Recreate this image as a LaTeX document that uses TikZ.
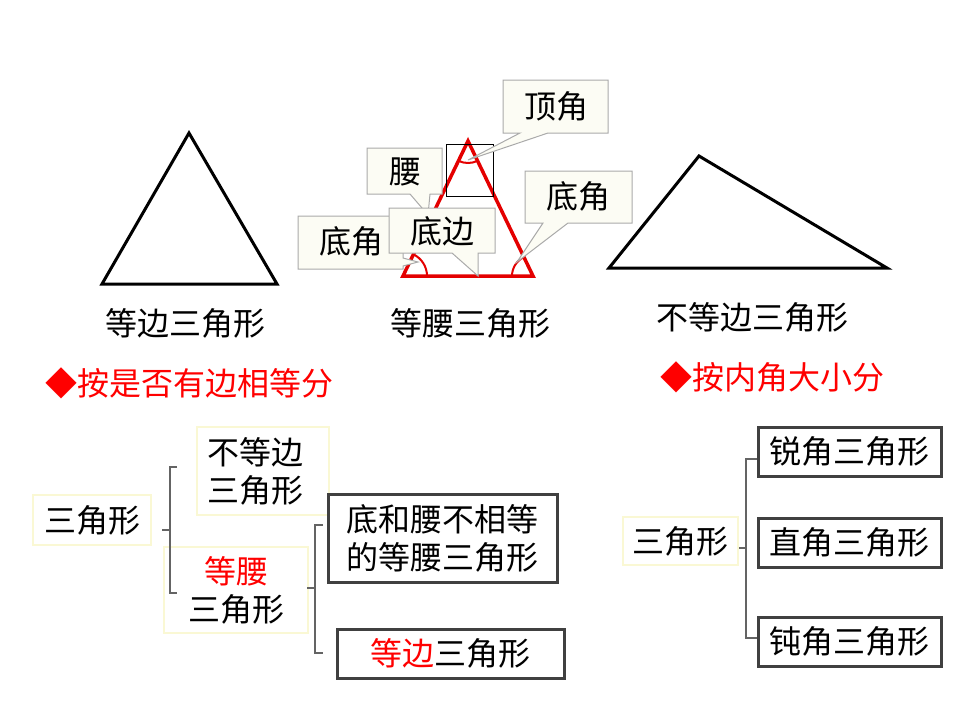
\documentclass[tikz,border=0pt]{standalone}
\usepackage{fontspec}
\setmainfont{Noto Sans CJK SC}
\definecolor{redT}{RGB}{228,0,0}
\definecolor{hred}{RGB}{255,0,0}
\definecolor{conn}{RGB}{100,100,100}
\definecolor{cream}{RGB}{252,252,244}
\definecolor{cbord}{RGB}{170,170,170}
\definecolor{ybord}{RGB}{250,248,212}
\definecolor{dbord}{RGB}{64,64,64}
\begin{document}
\begin{tikzpicture}[x=1pt,y=-1pt,
  txt/.style={font=\fontsize{32}{38}\selectfont, inner sep=0pt, align=center},
  ybox/.style={txt, draw=ybord, line width=2pt, fill=white},
  dbox/.style={txt, draw=dbord, line width=3pt, fill=white},
  brk/.style={draw=conn, line width=2.8pt},
  callout/.style={draw=cbord, fill=cream, line width=1pt, line join=miter},
  tri/.style={draw=black, line width=3pt, line join=miter},
  redtri/.style={draw=redT, line width=3.5pt, line join=miter},
  angarc/.style={draw=redT, line width=2pt},
]
\useasboundingbox (0,0) rectangle (960,720);

% ---------- equilateral triangle ----------
\coordinate (e1) at (189,133);
\coordinate (e2) at (102,284);
\coordinate (e3) at (277,284);
\draw[tri] (e1) -- (e2) -- (e3) -- cycle;
\node[txt] (lab1) at (185,323) {等边三角形};

% ---------- isosceles triangle ----------
\coordinate (i1) at (468,141);
\coordinate (i2) at (403,276);
\coordinate (i3) at (533,276);
\draw[redtri] (i1) -- (i2) -- (i3) -- cycle;
\draw[angarc] (i1) ++(64.3:22) arc[start angle=64.3, end angle=115.4, radius=22];
\draw[angarc] (i2) ++(-64.3:24) arc[start angle=-64.3, end angle=0, radius=24];
\draw[angarc] (i3) ++(180:21) arc[start angle=180, end angle=244.3, radius=21];
\draw[black, line width=1pt] (446,144) rectangle (493,196);
\node[txt] (lab2) at (470,323) {等腰三角形};

% callouts
\draw[callout] (503,80) -- (608,80) -- (608,133) -- (548,133) -- (468,160) -- (520,133) -- (503,133) -- cycle;
\node[txt] (cdj) at (556,106) {顶角};
\draw[callout] (367,148) -- (442,148) -- (442,194) -- (430,194) -- (428,215) -- (410,194) -- (367,194) -- cycle;
\node[txt] (cy) at (405,172) {腰};
\draw[callout] (298,216) -- (403,216) -- (403,258) -- (418,262) -- (403,266) -- (403,269) -- (298,269) -- cycle;
\node[txt] (cdl) at (351,241) {底角};
\draw[callout] (389,208) -- (495,208) -- (495,253) -- (478,253) -- (478,276) -- (452,253) -- (389,253) -- cycle;
\node[txt] (cdb) at (442,231) {底边};
\draw[callout] (525,171) -- (632,171) -- (632,223) -- (568,223) -- (517,262) -- (543,223) -- (525,223) -- cycle;
\node[txt] (cdr) at (578,196) {底角};

% ---------- scalene triangle ----------
\coordinate (s1) at (609,268);
\coordinate (s2) at (699,156);
\coordinate (s3) at (887,268);
\draw[tri] (s1) -- (s2) -- (s3) -- cycle;
\node[txt] (lab3) at (752,317) {不等边三角形};

% ---------- headings ----------
\node[txt, text=hred, anchor=west] (h1) at (45,383) {◆按是否有边相等分};
\node[txt, text=hred, anchor=west] (h2) at (660,377) {◆按内角大小分};

% ---------- left tree ----------
\node[ybox, minimum width=118pt, minimum height=50pt] (root1) at (92,520) {三角形};
\node[ybox, minimum width=132pt, minimum height=88pt] (neq) at (263,471) {};
\node[txt] (neqt) at (255,471) {不等边\\三角形};
\node[ybox, minimum width=144pt, minimum height=86pt] (iso) at (236,590) {{\color{hred}等腰}\\三角形};
\node[dbox, minimum width=229pt, minimum height=88pt] (bk1) at (442.5,538) {底和腰不相等\\的等腰三角形};
\node[dbox, minimum width=227pt, minimum height=49pt] (bk2) at (450.5,653.5) {{\color{hred}等边}三角形};

\coordinate (b1s) at (162,530);
\coordinate (b1m) at (170,530);
\coordinate (b1t) at (177,467);
\coordinate (b1b) at (177,593);
\draw[brk] (b1s) -- (b1m);
\draw[brk] (b1t) -- (b1m |- b1t) -- (b1m |- b1b) -- (b1b);

\coordinate (b2s) at (307,588);
\coordinate (b2m) at (315,588);
\coordinate (b2t) at (323,525);
\coordinate (b2b) at (323,653);
\draw[brk] (b2s) -- (b2m);
\draw[brk] (b2t) -- (b2m |- b2t) -- (b2m |- b2b) -- (b2b);

% ---------- right tree ----------
\node[ybox, minimum width=115pt, minimum height=48pt] (root2) at (680.5,541) {三角形};
\node[dbox, minimum width=183pt, minimum height=49pt] (acu) at (849.5,451.5) {锐角三角形};
\node[dbox, minimum width=183pt, minimum height=49pt] (rgt) at (849.5,542.5) {直角三角形};
\node[dbox, minimum width=183pt, minimum height=49pt] (obt) at (849.5,641.5) {钝角三角形};

\coordinate (b3m) at (746,548);
\draw[brk] (root2.east |- b3m) -- (b3m);
\draw[brk] (acu.west |- 0,459) -- (b3m |- 0,459) -- (b3m |- 0,638) -- (obt.west |- 0,638);
\end{tikzpicture}
\end{document}
